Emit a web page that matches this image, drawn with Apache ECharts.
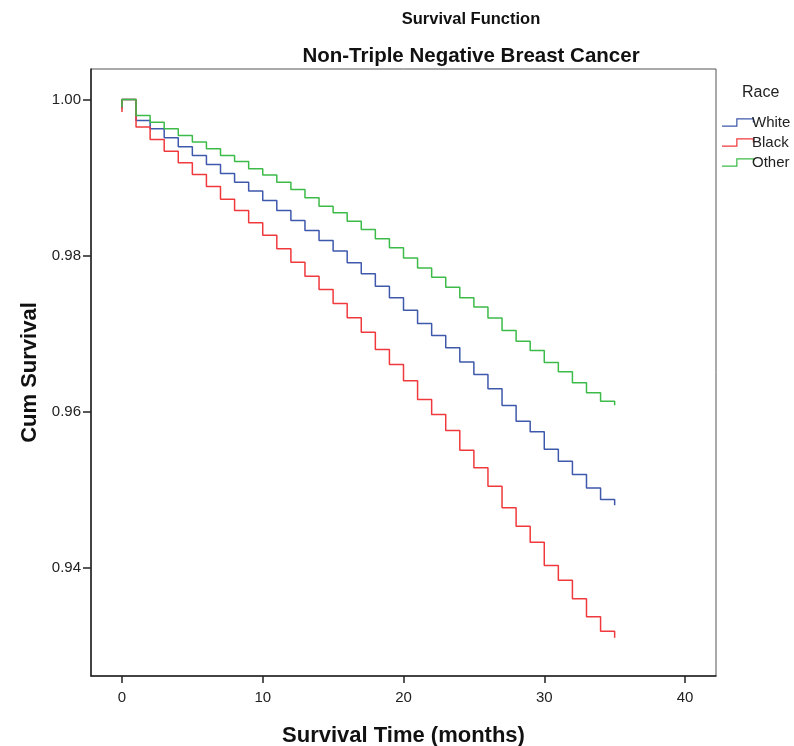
<!DOCTYPE html>
<html>
<head>
<meta charset="utf-8">
<script src="https://cdn.jsdelivr.net/npm/echarts@6/dist/echarts.min.js"></script>
<style>
  html, body { margin: 0; padding: 0; background: #fff; }
  #chart { width: 794px; height: 746px; }
</style>
</head>
<body>
<div id="chart"></div>
<script>
// survival by month, value held from month t to t+1
const months = [0, 1, 2, 3, 4, 5, 6, 7, 8, 9, 10, 11, 12, 13, 14, 15, 16, 17, 18,
  19, 20, 21, 22, 23, 24, 25, 26, 27, 28, 29, 30, 31, 32, 33, 34, 35];

const white = [1.0, 0.99731, 0.99624, 0.99509, 0.99394, 0.99282, 0.99167, 0.99051, 0.98940,
  0.98825, 0.98705, 0.98577, 0.98449, 0.98321, 0.98192, 0.98056, 0.97906, 0.97765, 0.97607,
  0.97457, 0.97297, 0.97128, 0.96974, 0.96817, 0.96633, 0.96474, 0.96291, 0.96077, 0.95876,
  0.95740, 0.95517, 0.95363, 0.95192, 0.95021, 0.94872, 0.94799];

const black = [1.0, 0.99646, 0.99487, 0.99337, 0.99188, 0.99038, 0.98885, 0.98722, 0.98577,
  0.98419, 0.98258, 0.98085, 0.97914, 0.97735, 0.97564, 0.97385, 0.97201, 0.97017, 0.96795,
  0.96603, 0.96393, 0.96154, 0.95962, 0.95756, 0.95504, 0.95278, 0.95042, 0.94765, 0.94529,
  0.94324, 0.94026, 0.93838, 0.93599, 0.93368, 0.93184, 0.93099];

const other = [1.0, 0.99795, 0.99709, 0.99624, 0.99538, 0.99453, 0.99368, 0.99282, 0.99205,
  0.99111, 0.99030, 0.98940, 0.98846, 0.98739, 0.98632, 0.98547, 0.98440, 0.98333, 0.98214,
  0.98098, 0.97968, 0.97838, 0.97722, 0.97594, 0.97458, 0.97338, 0.97197, 0.97038, 0.96901,
  0.96782, 0.96628, 0.96509, 0.96368, 0.96240, 0.96133, 0.96081];

// the short stub each curve draws at time 0
const startValues = { White: 0.9988, Black: 0.9984, Other: 0.9990 };

const xTicks = [0, 10, 20, 30, 40];
const yTicks = [0.94, 0.96, 0.98, 1.00];

const COLORS = { White: '#3e58ac', Black: '#f0393c', Other: '#3cbb48' };
const FONT = '"Liberation Sans", Arial, sans-serif';

// step icon drawn as a thin filled outline
const STEP_ICON = 'path://M0,68 L138,68 L138,0 L310,0 L310,40 L298,40 L298,12 L150,12 L150,80 L0,80 Z';

function buildSeries(name, values) {
  const data = [[0, startValues[name]]].concat(months.map((m, i) => [m, values[i]]));
  return {
    name,
    type: 'line',
    step: 'end',
    data,
    color: COLORS[name],
    showSymbol: false,
    lineStyle: { width: 1.5, color: COLORS[name] },
    animation: false,
  };
}

const chart = echarts.init(document.getElementById('chart'));
chart.setOption({
  backgroundColor: '#fff',
  animation: false,
  title: [
    {
      text: 'Survival Function',
      left: 466, top: 6,
      textAlign: 'center',
      textStyle: { fontFamily: FONT, fontSize: 16.5, fontWeight: 'bold', color: '#111' },
    },
    {
      text: 'Non-Triple Negative Breast Cancer',
      left: 466, top: 41,
      textAlign: 'center',
      textStyle: { fontFamily: FONT, fontSize: 20.5, fontWeight: 'bold', color: '#111' },
    },
    {
      text: 'Race',
      left: 737, top: 80,
      textStyle: { fontFamily: FONT, fontSize: 16, fontWeight: 'normal', color: '#222' },
    },
  ],
  legend: {
    orient: 'vertical',
    left: 717, top: 110,
    itemWidth: 32, itemHeight: 9,
    itemGap: 5,
    icon: STEP_ICON,
    selectedMode: false,
    itemStyle: { borderWidth: 0.6 },
    textStyle: { fontFamily: FONT, fontSize: 15, color: '#222', padding: [0, 0, 0, -7] },
    data: ['White', 'Black', 'Other'],
  },
  grid: {
    left: 91, right: 78, top: 69, bottom: 70,
    show: true,
    borderColor: '#555',
    borderWidth: 1,
    containLabel: false,
    outerBoundsMode: 'none',
  },
  xAxis: {
    type: 'value',
    min: -2.2, max: 42.2,
    name: 'Survival Time (months)',
    nameLocation: 'middle',
    nameGap: 49,
    nameTextStyle: { fontFamily: FONT, fontSize: 22, fontWeight: 'bold', color: '#111' },
    axisLine: { show: true, onZero: false, lineStyle: { color: '#222', width: 1.5 } },
    axisTick: { show: true, length: 7, customValues: xTicks, lineStyle: { color: '#222', width: 1.5 } },
    axisLabel: { customValues: xTicks, margin: 14, fontFamily: FONT, fontSize: 15, color: '#222' },
    splitLine: { show: false },
  },
  yAxis: {
    type: 'value',
    min: 0.9261, max: 1.0039,
    name: 'Cum Survival',
    nameLocation: 'middle',
    nameGap: 49,
    nameTextStyle: { fontFamily: FONT, fontSize: 22, fontWeight: 'bold', color: '#111' },
    axisLine: { show: true, onZero: false, lineStyle: { color: '#222', width: 1.5 } },
    axisTick: { show: true, length: 8, customValues: yTicks, lineStyle: { color: '#222', width: 1.5 } },
    axisLabel: {
      customValues: yTicks, margin: 10, fontFamily: FONT, fontSize: 15, color: '#222',
      formatter: (v) => v.toFixed(2),
    },
    splitLine: { show: false },
  },
  series: [
    buildSeries('White', white),
    buildSeries('Black', black),
    buildSeries('Other', other),
  ],
});
</script>
</body>
</html>
